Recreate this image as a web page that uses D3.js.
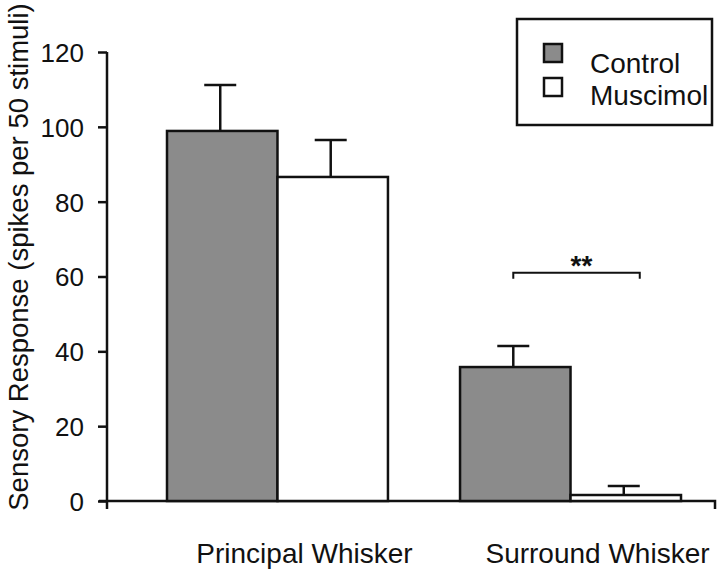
<!DOCTYPE html>
<html>
<head>
<meta charset="utf-8">
<script src="https://cdn.jsdelivr.net/npm/d3@7"></script>
<style>
  body { margin: 0; background: #fff; }
  svg { display: block; font-family: "Liberation Sans", Arial, sans-serif; }
</style>
</head>
<body>
<svg width="720" height="572"></svg>
<script>
// data
var categories = ["Principal Whisker", "Surround Whisker"];
var series = ["Control", "Muscimol"];
var controlMean = [98.9, 35.8];
var controlErr = [12.3, 5.6];
var muscimolMean = [86.6, 1.6];
var muscimolErr = [9.9, 2.4];
var yTicks = [0, 20, 40, 60, 80, 100, 120];
var sigLevel = 61;

var fills = {Control: "#8b8b8b", Muscimol: "#ffffff"};

var rows = [];
categories.forEach(function(c, i) {
  rows.push({cat: c, s: "Control", v: controlMean[i], e: controlErr[i]});
  rows.push({cat: c, s: "Muscimol", v: muscimolMean[i], e: muscimolErr[i]});
});

var svg = d3.select("svg");

// scales
var y = d3.scaleLinear().domain([0, 120]).range([501, 52]);
var xAxisBand = d3.scaleBand().domain(categories).range([107, 715]);
var x = d3.scaleBand().domain(categories).range([167, 681]).paddingInner(0.246);
var xs = d3.scaleBand().domain(series).range([0, x.bandwidth()]);

// y axis
var yAxis = svg.append("g")
    .attr("transform", "translate(107,0)")
    .call(d3.axisLeft(y).tickValues(yTicks).tickSize(9).tickSizeOuter(0).tickPadding(14));
yAxis.select(".domain").attr("stroke", "#111").attr("stroke-width", 2.5)
    .attr("d", "M0," + y(120) + "V" + (y(0) + 8));
yAxis.selectAll(".tick line").attr("stroke", "#111").attr("stroke-width", 2.5);
yAxis.selectAll(".tick text")
    .attr("font-size", 26).attr("fill", "#111")
    .attr("font-family", "Liberation Sans, Arial, sans-serif")
    .attr("dy", "0.36em");

// x axis line, tick only at right end
var xr = xAxisBand.range();
svg.append("path")
    .attr("d", "M" + (xr[0] - 8) + "," + y(0) + "H" + xr[1] + "V" + (y(0) + 8))
    .attr("stroke", "#111").attr("stroke-width", 2.5).attr("fill", "none");

// bars
svg.selectAll(".bar").data(rows).enter().append("rect")
    .attr("x", function(d) { return x(d.cat) + xs(d.s); })
    .attr("y", function(d) { return y(d.v); })
    .attr("width", xs.bandwidth())
    .attr("height", function(d) { return y(0) - y(d.v); })
    .attr("fill", function(d) { return fills[d.s]; })
    .attr("stroke", "#111").attr("stroke-width", 2.5);

// error bars (upper only)
var eb = svg.selectAll(".err").data(rows).enter().append("g");
eb.append("line")
    .attr("x1", function(d) { return x(d.cat) + xs(d.s) + xs.bandwidth() / 2 - 2; })
    .attr("x2", function(d) { return x(d.cat) + xs(d.s) + xs.bandwidth() / 2 - 2; })
    .attr("y1", function(d) { return y(d.v); })
    .attr("y2", function(d) { return y(d.v + d.e); })
    .attr("stroke", "#111").attr("stroke-width", 2.5);
eb.append("line")
    .attr("x1", function(d) { return x(d.cat) + xs(d.s) + xs.bandwidth() / 2 - 18; })
    .attr("x2", function(d) { return x(d.cat) + xs(d.s) + xs.bandwidth() / 2 + 14; })
    .attr("y1", function(d) { return y(d.v + d.e); })
    .attr("y2", function(d) { return y(d.v + d.e); })
    .attr("stroke", "#111").attr("stroke-width", 2.5);

// significance bracket on surround whisker
var bx1 = x(categories[1]) + xs("Control") + xs.bandwidth() / 2 - 2;
var bx2 = x(categories[1]) + xs("Muscimol") + xs.bandwidth() / 2 + 14;
svg.append("path")
    .attr("d", "M" + bx1 + "," + (y(sigLevel) + 6) + "V" + y(sigLevel) + "H" + bx2 + "V" + (y(sigLevel) + 6))
    .attr("stroke", "#111").attr("stroke-width", 2).attr("fill", "none");
svg.append("text")
    .attr("x", (bx1 + bx2) / 2 + 5).attr("y", y(sigLevel) + 2)
    .attr("text-anchor", "middle").attr("font-size", 28).attr("font-weight", "bold").attr("fill", "#111")
    .text("**");

// category labels
svg.selectAll(".cat").data(categories).enter().append("text")
    .attr("x", function(d) { return x(d) + x.bandwidth() / 2 + 27; })
    .attr("y", 563)
    .attr("text-anchor", "middle").attr("font-size", 28).attr("fill", "#111")
    .text(function(d) { return d; });

// y label
svg.append("text")
    .attr("transform", "translate(28,257) rotate(-90)")
    .attr("text-anchor", "middle").attr("font-size", 27.5).attr("fill", "#111")
    .text("Sensory Response (spikes per 50 stimuli)");

// legend
var legend = svg.append("g");
legend.append("rect")
    .attr("x", 517).attr("y", 19).attr("width", 195).attr("height", 106)
    .attr("fill", "#fff").attr("stroke", "#111").attr("stroke-width", 2.5);
var li = legend.selectAll(".li").data(series).enter().append("g")
    .attr("transform", function(d, i) { return "translate(544," + (44 + i * 34) + ")"; });
li.append("rect")
    .attr("width", 18).attr("height", 18)
    .attr("fill", function(d) { return fills[d]; })
    .attr("stroke", "#111").attr("stroke-width", 2.5);
li.append("text")
    .attr("x", 46).attr("y", function(d, i) { return 29 - i * 2; })
    .attr("font-size", 28).attr("fill", "#111")
    .text(function(d) { return d; });
</script>
</body>
</html>
